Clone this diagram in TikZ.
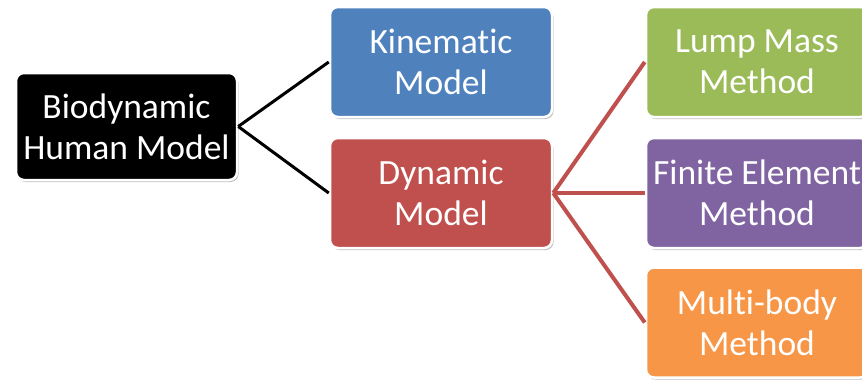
\documentclass[tikz,border=0pt]{standalone}
\usepackage{fontspec}
\setmainfont[Ligatures=NoCommon]{Carlito}
\definecolor{cblue}{HTML}{4F81BD}
\definecolor{cred}{HTML}{C0504D}
\definecolor{cgreen}{HTML}{9BBB59}
\definecolor{cpurple}{HTML}{8064A2}
\definecolor{corange}{HTML}{F79646}
\begin{document}
\begin{tikzpicture}[x=1pt,y=-1pt,
  box/.style={draw=white,line width=2.5pt,rounded corners=8pt,minimum width=222pt,minimum height=110pt,
    text=white,align=center,font=\fontsize{35.5}{41}\selectfont,inner sep=0pt,
    preaction={fill=black!25,transform canvas={xshift=1.5pt,yshift=-2pt}}},
  blackline/.style={line width=3pt,black},
  redline/.style={line width=4pt,cred}]
\useasboundingbox (0,0) rectangle (862,380);
\clip (0,0) rectangle (862,380);
\fill[white] (0,0) rectangle (862,380);
\node[box,fill=black,minimum width=221pt,minimum height=107pt] (bio) at (126.5,126.5) {Biodynamic\\Human Model};
\node[box,fill=cblue] (kin) at (441,62) {Kinematic\\Model};
\node[box,fill=cred] (dyn) at (441,193) {Dynamic\\Model};
\node[box,fill=cgreen] (lump) at (757,62) {Lump Mass\\Method};
\node[box,fill=cpurple] (fem) at (757,193) {Finite Element\\Method};
\node[box,fill=corange] (mb) at (757,322.5) {Multi-body\\Method};
\draw[blackline] (bio.east) -- (kin.west);
\draw[blackline] (bio.east) -- (dyn.west);
\draw[redline] (dyn.east) -- (lump.west);
\draw[redline] (dyn.east) -- (fem.west);
\draw[redline] (dyn.east) -- (mb.west);
\end{tikzpicture}
\end{document}
